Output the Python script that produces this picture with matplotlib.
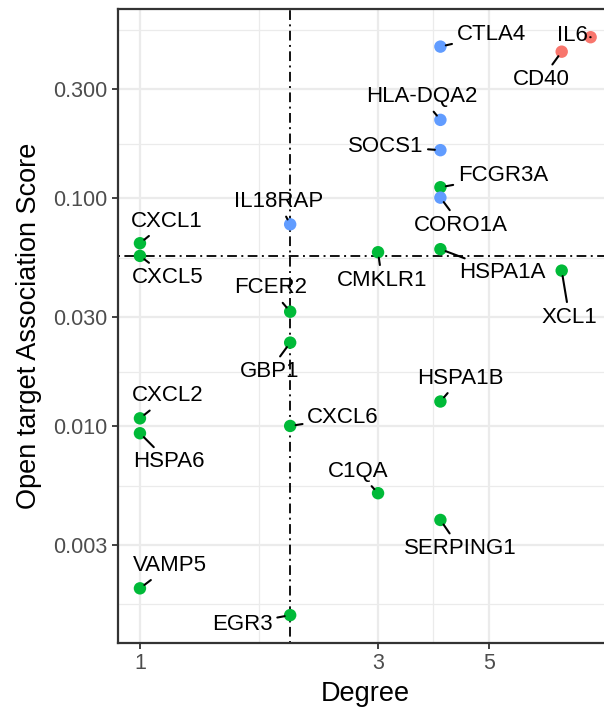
import matplotlib
matplotlib.use("Agg")
import matplotlib.pyplot as plt
import numpy as np

plt.rcParams['font.family'] = ['Liberation Sans', 'DejaVu Sans']
plt.rcParams['lines.scale_dashes'] = False

# ---------------- data ----------------
genes = ["IL6", "CD40", "CTLA4", "HLA-DQA2", "SOCS1", "FCGR3A", "CORO1A", "IL18RAP",
         "CXCL1", "CXCL5", "CMKLR1", "HSPA1A", "XCL1", "FCER2", "GBP1", "HSPA1B",
         "CXCL2", "HSPA6", "CXCL6", "C1QA", "SERPING1", "VAMP5", "EGR3"]
degree = [8, 7, 4, 4, 4, 4, 4, 2,
          1, 1, 3, 4, 7, 2, 2, 4,
          1, 1, 2, 3, 4, 1, 2]
score = [0.507, 0.438, 0.461, 0.220, 0.162, 0.1114, 0.1003, 0.0766,
         0.0633, 0.0557, 0.0578, 0.0596, 0.0480, 0.0317, 0.0232, 0.0128,
         0.0108, 0.00929, 0.0100, 0.00507, 0.00387, 0.00194, 0.00148]
group = ["a", "a", "b", "b", "b", "c", "b", "b",
         "c", "c", "c", "c", "c", "c", "c", "c",
         "c", "c", "c", "c", "c", "c", "c"]
degree_cut = 2

x_ticks = [1, 3, 5]
x_ticklabels = ["1", "3", "5"]
y_ticks = [0.003, 0.01, 0.03, 0.1, 0.3]
y_ticklabels = ["0.003", "0.010", "0.030", "0.100", "0.300"]

# ---------------- style / layout ----------------
group_colors = {"a": "#F8766D", "b": "#619CFF", "c": "#00BA38"}
# label offsets (image pixels, x right, y down, to caps centre)
label_offsets = {
    "IL6": (-18.6, -4.3), "CD40": (-20.2, 25.3), "CTLA4": (51, -14.2),
    "HLA-DQA2": (-19, -25.5), "SOCS1": (-55, -6.3), "FCGR3A": (62.7, -14),
    "CORO1A": (20.5, 25), "IL18RAP": (-12, -25.3), "CXCL1": (27, -24.3),
    "CXCL5": (28, 19), "CMKLR1": (4, 25.7), "HSPA1A": (61.5, 20.7),
    "XCL1": (7.8, 44.3), "FCER2": (-20, -26.2), "GBP1": (-21, 26.3),
    "HSPA1B": (20, -25.7), "CXCL2": (28, -24.8), "HSPA6": (28.5, 26.2),
    "CXCL6": (53, -10.7), "C1QA": (-20, -24.3), "SERPING1": (19.5, 26),
    "VAMP5": (30, -25.3), "EGR3": (-48, 6.5),
}

W, H = 604, 713
fig = plt.figure(figsize=(W / 100, H / 100), dpi=100)
left, right, top, bottom = 117.5, 613, 9, 643
ax = fig.add_axes([left / W, (H - bottom) / H, (right - left) / W, (bottom - top) / H])

ax.set_xscale('log')
ax.set_yscale('log')
ax.set_xlim(0.9016, 8.87)
ax.set_ylim(0.001117, 0.674)

grid_c = "#EBEBEB"
x_minor = [1.732, 3.873]
y_minor = [0.00165, 0.005477, 0.01732, 0.05477, 0.1732, 0.5477]
for v in x_minor:
    ax.axvline(v, color=grid_c, lw=0.9, zorder=0)
for v in y_minor:
    ax.axhline(v, color=grid_c, lw=0.9, zorder=0)
for v in x_ticks:
    ax.axvline(v, color=grid_c, lw=1.6, zorder=0)
for v in y_ticks:
    ax.axhline(v, color=grid_c, lw=1.6, zorder=0)

score_cut = float(np.median(score))
dash = (0, (1.4, 3.2, 7.0, 3.2))
ax.axvline(degree_cut, color="black", lw=1.3, linestyle=dash, zorder=1)
ax.axhline(score_cut, color="black", lw=1.3, linestyle=dash, zorder=1)

cols = [group_colors[g] for g in group]
ax.scatter(degree, score, s=80, c=cols, edgecolors='none', zorder=3)

fs = 16
cap_half = 0.716 * fs * 100 / 72 / 2
for g, d, s in zip(genes, degree, score):
    dx, dy = label_offsets[g]
    ax.annotate(g, xy=(d, s), xytext=(dx, -(dy + cap_half)), textcoords='offset pixels',
                ha='center', va='baseline', fontsize=fs, color='black', zorder=4,
                arrowprops=dict(arrowstyle='-', color='black', lw=1.5,
                                shrinkA=1.5, shrinkB=4.0))

ax.xaxis.set_major_locator(matplotlib.ticker.FixedLocator(x_ticks))
ax.xaxis.set_major_formatter(matplotlib.ticker.FixedFormatter(x_ticklabels))
ax.yaxis.set_major_locator(matplotlib.ticker.FixedLocator(y_ticks))
ax.yaxis.set_major_formatter(matplotlib.ticker.FixedFormatter(y_ticklabels))
ax.xaxis.set_minor_locator(matplotlib.ticker.NullLocator())
ax.yaxis.set_minor_locator(matplotlib.ticker.NullLocator())

ax.tick_params(axis='both', which='major', length=4, width=1.3, color="#333333",
               labelcolor="#4D4D4D", labelsize=15.5, pad=3)

for sp in ax.spines.values():
    sp.set_color("#333333")
    sp.set_linewidth(1.6)

ax.set_xlabel("Degree", fontsize=19.5, labelpad=5)
ax.set_ylabel("Open target Association Score", fontsize=19.5, labelpad=8)

fig.savefig("out.png", dpi=100)
